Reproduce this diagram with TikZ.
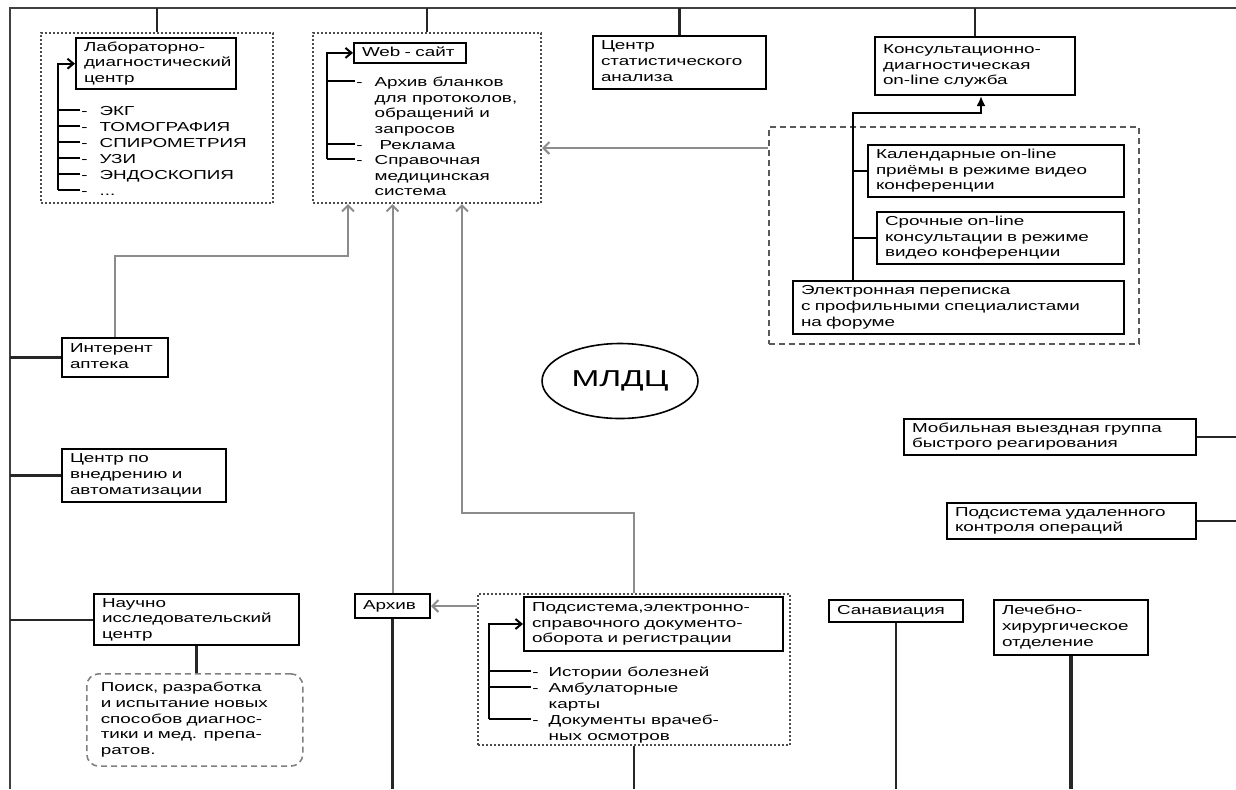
\documentclass[tikz,border=0pt]{standalone}
\usepackage{fontspec}
\setmainfont{Liberation Sans}[FakeStretch=1.45]
\usetikzlibrary{arrows.meta,shapes.geometric}
\newcommand{\stk}[1]{\begin{tabular}[t]{@{}l@{}}#1\end{tabular}}
\tikzset{
  box/.style={draw=black,line width=1pt,anchor=north west,align=left,inner xsep=4pt,inner ysep=1pt},
  grp/.style={draw=black!70,densely dotted,line width=1pt,anchor=north west,inner sep=0pt},
  item/.style={anchor=mid west,inner sep=0.5pt},
  frame/.style={black!75,line width=1pt},
  stub/.style={black!85,line width=1.2pt},
  arr/.style={line width=1pt,-{Straight Barb[length=3pt,width=5pt]}},
  conn/.style={black!45,line width=1pt,-{Straight Barb[length=3pt,width=6pt]}}
}
\begin{document}
\begin{tikzpicture}[x=0.5pt,y=-0.5pt,font=\fontsize{6.5}{7.9}\selectfont]
\useasboundingbox (0,0) rectangle (1236,789);
\coordinate (tl) at (10,8);
\coordinate (tr) at (1236,8);
\coordinate (bl) at (10,789);
\draw[frame] (tr) -- (tl) -- (bl);
% groups
\node[grp,minimum width=116pt,minimum height=85pt] (labg) at (40,32) {};
\node[grp,minimum width=114pt,minimum height=85pt] (webg) at (312,32) {};
\node[grp,draw=black!65,densely dashed,line width=0.8pt,minimum width=185pt,minimum height=108.5pt] (consg) at (768,126) {};
\node[grp,minimum width=156pt,minimum height=75.5pt] (podsg) at (477,593) {};
% top row
\node[box,text width=72pt,minimum height=25.5pt] (lab) at (75,37) {\stk{Лабораторно-\\диагностический\\центр}};
\node[box,text width=48pt,minimum height=9pt] (web) at (353,42) {\stk{Web - сайт}};
\node[box,text width=78.5pt,minimum height=26.5pt] (stat) at (592,35) {\stk{Центр\\статистического\\анализа}};
\node[box,text width=92pt,minimum height=29pt] (cons) at (874,36) {\stk{Консультационно-\\диагностическая\\on-line служба}};
% lab items
\node[item] (l1) at (80,110) {-\hspace{6pt}ЭКГ};
\node[item] (l2) at (80,126) {-\hspace{6pt}ТОМОГРАФИЯ};
\node[item] (l3) at (80,142) {-\hspace{6pt}СПИРОМЕТРИЯ};
\node[item] (l4) at (80,158) {-\hspace{6pt}УЗИ};
\node[item] (l5) at (80,174) {-\hspace{6pt}ЭНДОСКОПИЯ};
\node[item] (l6) at (80,190) {-\hspace{6pt}...};
\coordinate (lb) at (58,0);
\draw[arr] (l6.mid west -| lb) |- (lab.west);
\draw[line width=1pt] (l1.mid west -| lb) -- (l1.mid west);
\draw[line width=1pt] (l2.mid west -| lb) -- (l2.mid west);
\draw[line width=1pt] (l3.mid west -| lb) -- (l3.mid west);
\draw[line width=1pt] (l4.mid west -| lb) -- (l4.mid west);
\draw[line width=1pt] (l5.mid west -| lb) -- (l5.mid west);
\draw[line width=1pt] (l6.mid west -| lb) -- (l6.mid west);
% web items
\node[item] (w1) at (355,81) {-\hspace{6pt}\stk{Архив бланков\\для протоколов,\\обращений и\\запросов}};
\node[item] (w2) at (355,144) {-\hspace{8.5pt}Реклама};
\node[item] (w3) at (355,159) {-\hspace{6pt}\stk{Справочная\\медицинская\\система}};
\coordinate (wb) at (327,0);
\draw[arr] (w3.mid west -| wb) |- (web.west);
\draw[line width=1pt] (w1.mid west -| wb) -- (w1.mid west);
\draw[line width=1pt] (w2.mid west -| wb) -- (w2.mid west);
\draw[line width=1pt] (w3.mid west -| wb) -- (w3.mid west);
% consultation service
\node[box,text width=120pt,minimum height=26pt] (kal) at (867,144) {\stk{Календарные on-line\\приёмы в режиме видео\\конференции}};
\node[box,text width=115.5pt,minimum height=26pt] (sroch) at (876,211) {\stk{Срочные on-line\\консультации в режиме\\видео конференции}};
\node[box,text width=157.5pt,minimum height=26.5pt] (el) at (792,280) {\stk{Электронная переписка\\с профильными специалистами\\на форуме}};
\coordinate (cb) at (853,113);
\draw[line width=1pt,-{Latex[length=5pt,width=4.5pt]}] (el.north -| cb) -- (cb) -| ([xshift=3pt]cons.south);
\draw[line width=1pt] (kal.west -| cb) -- (kal.west);
\draw[line width=1pt] (sroch.west -| cb) -- (sroch.west);
\coordinate (ca) at ([yshift=-11pt]consg.north west);
\draw[conn] (ca) -- (ca -| webg.east);
% left column
\node[box,text width=45pt,minimum height=19.5pt] (apt) at (61,337) {\stk{Интерент\\аптека}};
\node[box,text width=74pt,minimum height=26.5pt] (vnedr) at (61,448) {\stk{Центр по\\внедрению и\\автоматизации}};
\node[box,text width=94.5pt,minimum height=25.5pt] (nauch) at (93,593) {\stk{Научно\\исследовательский\\центр}};
\node[draw=black!50,densely dashed,rounded corners=6pt,line width=0.8pt,anchor=north west,align=left,text width=94pt,inner xsep=7pt,minimum height=46pt] (poisk) at (86,673) {\stk{Поиск, разработка\\и испытание новых\\способов диагнос-\\тики и мед. препа-\\ратов.}};
% centre
\node[draw,shape=ellipse,line width=0.8pt,minimum width=75pt,minimum height=37.5pt,font=\fontsize{11.5}{13}\selectfont] (mldc) at (620,381) {МЛДЦ};
% bottom row
\node[box,text width=29.5pt,minimum height=12pt] (arh) at (354,593) {Архив};
\node[box,text width=121.5pt,minimum height=27pt] (pods) at (523,596) {\stk{Подсистема,электронно-\\справочного документо-\\оборота и регистрации}};
\node[item] (p1) at (531,671) {-\hspace{5pt}Истории болезней};
\node[item] (p2) at (531,687) {-\hspace{5pt}\stk{Амбулаторные\\карты}};
\node[item] (p3) at (531,719) {-\hspace{5pt}\stk{Документы врачеб-\\ных осмотров}};
\coordinate (pb) at (489,0);
\draw[arr] (p3.mid west -| pb) |- (pods.west);
\draw[line width=1pt] (p1.mid west -| pb) -- (p1.mid west);
\draw[line width=1pt] (p2.mid west -| pb) -- (p2.mid west);
\draw[line width=1pt] (p3.mid west -| pb) -- (p3.mid west);
\node[box,text width=59pt,minimum height=11pt] (sanav) at (828,599) {Санавиация};
\node[box,text width=69pt,minimum height=27.5pt] (hir) at (993,599) {\stk{Лечебно-\\хирургическое\\отделение}};
% right side
\node[box,text width=138pt,minimum height=17.5pt] (mob) at (903,418) {\stk{Мобильная выездная группа\\быстрого реагирования}};
\node[box,text width=116.5pt,minimum height=17.5pt] (udal) at (946,502) {\stk{Подсистема удаленного\\контроля операций}};
% links to the frame
\draw[stub] (labg.north) -- (labg.north |- tl);
\draw[stub] (webg.north) -- (webg.north |- tl);
\draw[stub] (stat.north) -- (stat.north |- tl);
\draw[stub] (cons.north) -- (cons.north |- tl);
\draw[stub] (apt.west) -- (apt.west -| tl);
\draw[stub] (vnedr.west) -- (vnedr.west -| tl);
\draw[stub] (nauch.west) -- (nauch.west -| tl);
\draw[stub] (nauch.south) -- (nauch.south |- poisk.north);
\draw[stub] (arh.south) -- (arh.south |- bl);
\draw[stub] (podsg.south) -- (podsg.south |- bl);
\draw[stub] (sanav.south) -- (sanav.south |- bl);
\draw[stub,line width=2pt] (hir.south) -- (hir.south |- bl);
\draw[stub] (mob.east) -- (mob.east -| tr);
\draw[stub] (udal.east) -- (udal.east -| tr);
% grey links to the web site
\coordinate (g1) at (348,256);
\draw[conn] (apt.north) |- (g1) -- (g1 |- webg.south);
\draw[conn] (arh.north) -- (arh.north |- webg.south);
\coordinate (g2) at (462,513);
\draw[conn] (podsg.north) |- (g2) -- (g2 |- webg.south);
\draw[conn] (podsg.west |- arh.east) -- (arh.east);
\end{tikzpicture}
\end{document}
